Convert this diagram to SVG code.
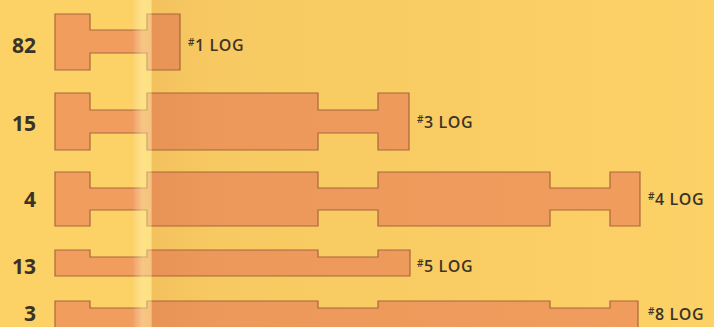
<svg xmlns="http://www.w3.org/2000/svg" width="714" height="327" viewBox="0 0 714 327">
<defs>
<style>
.log{fill:#F09D5E;stroke:#A8683C;stroke-width:1.2;stroke-linejoin:miter}
.num{font-family:"Open Sans","Liberation Sans",sans-serif;font-weight:700;font-size:21px;fill:#3A3226;text-anchor:end}
.lbl{font-family:"Open Sans","Liberation Sans",sans-serif;font-weight:600;font-size:16px;letter-spacing:0.6px;fill:#3A3226}
.hash{font-size:10px}
</style>
<linearGradient id="fold" x1="0" y1="0" x2="714" y2="0" gradientUnits="userSpaceOnUse">
<stop offset="0" stop-color="#FFFFFF" stop-opacity="0"/>
<stop offset="0.185" stop-color="#FFFFFF" stop-opacity="0"/>
<stop offset="0.2" stop-color="#FFF8B0" stop-opacity="0.45"/>
<stop offset="0.212" stop-color="#FFF8B0" stop-opacity="0.4"/>
<stop offset="0.213" stop-color="#B05020" stop-opacity="0.12"/>
<stop offset="0.3" stop-color="#B05020" stop-opacity="0.06"/>
<stop offset="1" stop-color="#B05020" stop-opacity="0"/>
</linearGradient>
</defs>
<rect width="714" height="327" fill="#FCD166"/>
<g id="log1">
<path class="log" d="M55,14 H90 V30 H147 V14 H180 V70 H147 V53 H90 V70 H55 Z"/>
<text class="num" x="36" y="53">82</text>
<text class="lbl" x="188" y="51"><tspan class="hash" dy="-5">#</tspan><tspan dy="5">1 LOG</tspan></text>
</g>
<g id="log3">
<path class="log" d="M55,93 H90 V110 H147 V93 H318 V110 H378 V93 H409 V150 H378 V133 H318 V150 H147 V133 H90 V150 H55 Z"/>
<text class="num" x="36" y="131">15</text>
<text class="lbl" x="417" y="128"><tspan class="hash" dy="-5">#</tspan><tspan dy="5">3 LOG</tspan></text>
</g>
<g id="log4">
<path class="log" d="M55,172 H90 V188 H147 V172 H318 V188 H378 V172 H550 V188 H610 V172 H640 V226 H610 V210 H550 V226 H378 V210 H318 V226 H147 V210 H90 V226 H55 Z"/>
<text class="num" x="36" y="207">4</text>
<text class="lbl" x="648" y="205"><tspan class="hash" dy="-5">#</tspan><tspan dy="5">4 LOG</tspan></text>
</g>
<g id="log5">
<path class="log" d="M55,250 H90 V257 H147 V250 H318 V257 H378 V250 H410 V276 H55 Z"/>
<text class="num" x="36" y="274">13</text>
<text class="lbl" x="417" y="272"><tspan class="hash" dy="-5">#</tspan><tspan dy="5">5 LOG</tspan></text>
</g>
<g id="log8">
<path class="log" d="M55,301 H90 V308 H147 V301 H318 V308 H378 V301 H550 V308 H610 V301 H638 V335 H55 Z"/>
<text class="num" x="36" y="321">3</text>
<text class="lbl" x="648" y="320"><tspan class="hash" dy="-5">#</tspan><tspan dy="5">8 LOG</tspan></text>
</g>
<rect width="714" height="327" fill="url(#fold)" pointer-events="none"/>
</svg>
